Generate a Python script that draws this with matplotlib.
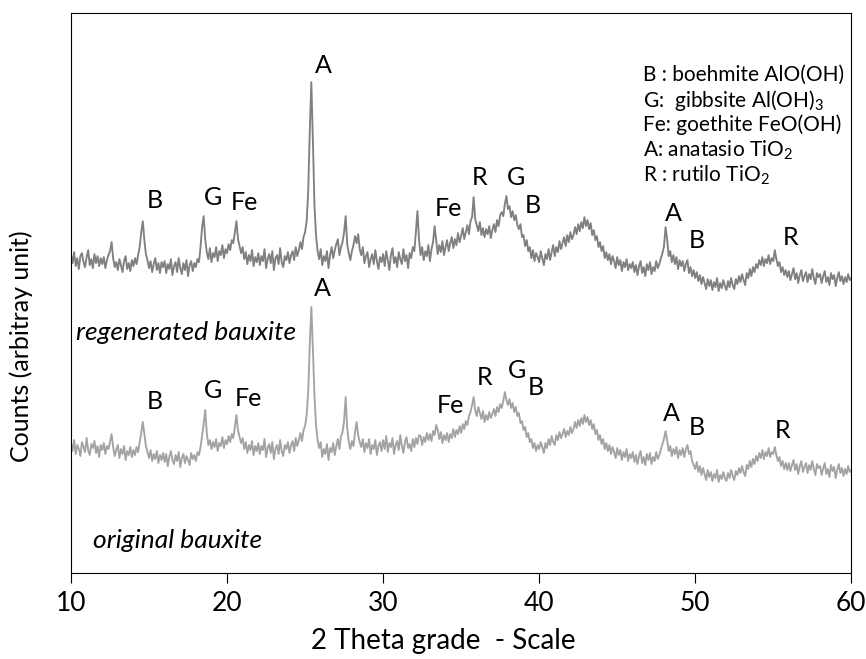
import numpy as np
import matplotlib.pyplot as plt

# scan grid (2 theta, step 0.1)
two_theta = np.linspace(10, 60, 501)

# counts (arbitrary unit, already offset per pattern)
# one row = 2 degrees
regenerated = [
    318, 310, 321, 307, 315, 304, 317, 320, 311, 306, 316, 323, 308, 314, 305, 319, 310, 317, 307, 315,   # 10
    309, 316, 305, 313, 318, 322, 331, 315, 306, 311, 303, 314, 308, 301, 312, 317, 304, 310, 302, 313,   # 12
    307, 315, 309, 318, 326, 341, 352, 333, 319, 313, 305, 312, 301, 309, 315, 303, 310, 300, 311, 306,   # 14
    312, 300, 309, 304, 314, 298, 307, 311, 301, 315, 305, 299, 310, 303, 313, 297, 308, 312, 302, 310,   # 16
    306, 314, 311, 326, 346, 357, 334, 321, 314, 325, 311, 320, 316, 326, 312, 322, 318, 328, 315, 324,   # 18
    320, 329, 323, 333, 330, 341, 352, 334, 327, 320, 326, 314, 321, 309, 318, 312, 323, 307, 316, 311,   # 20
    320, 308, 317, 312, 324, 305, 314, 319, 310, 322, 303, 315, 318, 309, 325, 311, 306, 317, 313, 321,   # 22
    310, 318, 322, 313, 326, 317, 323, 331, 324, 336, 341, 352, 382, 442, 491, 432, 368, 338, 322, 314,   # 24
    324, 308, 317, 312, 322, 305, 318, 326, 315, 323, 329, 334, 318, 326, 331, 341, 357, 329, 320, 313,   # 26
    322, 328, 337, 330, 339, 324, 318, 326, 310, 317, 321, 306, 314, 319, 309, 323, 312, 304, 316, 311,   # 28
    319, 307, 322, 313, 303, 318, 325, 310, 316, 306, 321, 314, 309, 324, 312, 318, 305, 320, 315, 326,   # 30
    322, 341, 362, 334, 318, 326, 313, 322, 317, 328, 312, 324, 331, 347, 333, 319, 328, 321, 332, 318,   # 32
    326, 333, 322, 330, 336, 325, 334, 328, 340, 331, 337, 345, 334, 341, 348, 339, 352, 356, 376, 354,   # 34
    348, 342, 351, 338, 345, 336, 344, 339, 347, 335, 343, 349, 341, 353, 347, 358, 361, 357, 369, 377,   # 36
    364, 367, 356, 362, 353, 358, 348, 344, 349, 336, 338, 327, 333, 322, 326, 315, 323, 312, 320, 316,   # 38
    311, 322, 315, 308, 319, 314, 324, 313, 321, 328, 317, 326, 321, 332, 324, 330, 336, 327, 338, 331,   # 40
    341, 334, 338, 346, 339, 349, 342, 351, 345, 356, 347, 353, 344, 350, 338, 343, 333, 337, 326, 331,   # 42
    322, 327, 315, 321, 313, 319, 309, 317, 312, 305, 316, 308, 313, 302, 311, 306, 314, 303, 309, 305,   # 44
    311, 301, 308, 298, 307, 312, 300, 306, 297, 309, 303, 311, 299, 306, 302, 312, 305, 309, 315, 320,   # 46
    327, 346, 334, 317, 322, 311, 318, 309, 316, 304, 313, 307, 312, 302, 309, 313, 300, 306, 297, 303,   # 48
    295, 301, 292, 298, 289, 296, 290, 284, 294, 287, 293, 283, 291, 286, 295, 282, 290, 285, 293, 287,   # 50
    283, 292, 286, 295, 288, 284, 294, 289, 297, 291, 299, 293, 288, 300, 295, 304, 297, 306, 301, 309,   # 52
    305, 313, 308, 316, 307, 314, 310, 318, 309, 315, 312, 323, 314, 307, 311, 301, 306, 298, 303, 296,   # 54
    302, 293, 299, 305, 294, 300, 290, 298, 303, 292, 297, 301, 291, 299, 294, 304, 295, 289, 300, 296,   # 56
    299, 290, 297, 302, 291, 296, 288, 300, 294, 298, 287, 295, 301, 292, 297, 289, 296, 291, 299, 293,   # 58
    295,
]

original = [
    130, 122, 133, 119, 128, 124, 117, 131, 126, 121, 135, 123, 118, 129, 125, 132, 120, 127, 116, 128,   # 10
    123, 130, 119, 127, 124, 131, 139, 126, 117, 123, 128, 115, 124, 119, 127, 113, 122, 118, 126, 116,   # 12
    123, 118, 126, 121, 131, 140, 151, 139, 127, 121, 115, 123, 112, 119, 114, 122, 110, 118, 113, 120,   # 14
    111, 119, 107, 116, 122, 113, 109, 118, 112, 121, 106, 115, 119, 110, 117, 113, 108, 120, 114, 118,   # 16
    112, 121, 118, 126, 137, 149, 163, 140, 128, 133, 124, 131, 126, 134, 122, 130, 127, 136, 125, 133,   # 18
    129, 137, 131, 139, 135, 146, 158, 143, 136, 130, 135, 124, 131, 120, 128, 123, 132, 118, 127, 122,   # 20
    130, 119, 127, 123, 134, 116, 125, 129, 120, 131, 114, 124, 128, 119, 133, 122, 117, 128, 124, 131,   # 22
    120, 128, 132, 122, 135, 127, 133, 140, 132, 143, 147, 158, 182, 228, 266, 224, 178, 148, 133, 125,   # 24
    131, 116, 124, 119, 129, 113, 125, 121, 130, 118, 127, 134, 124, 137, 141, 152, 176, 145, 131, 124,   # 26
    132, 127, 141, 151, 138, 131, 126, 134, 121, 130, 125, 134, 119, 128, 124, 133, 118, 127, 131, 122,   # 28
    133, 124, 137, 121, 130, 126, 135, 119, 128, 132, 123, 138, 127, 120, 131, 136, 125, 129, 122, 134,   # 30
    126, 135, 129, 138, 137, 128, 136, 131, 140, 133, 139, 132, 142, 138, 148, 143, 134, 141, 130, 138,   # 32
    133, 140, 131, 139, 135, 144, 136, 143, 139, 147, 140, 149, 144, 152, 148, 157, 161, 168, 176, 163,   # 34
    157, 166, 160, 154, 162, 151, 158, 153, 161, 155, 159, 164, 157, 166, 161, 169, 165, 172, 181, 173,   # 36
    168, 174, 165, 170, 161, 166, 157, 160, 150, 152, 143, 146, 136, 140, 131, 134, 125, 130, 122, 128,   # 38
    124, 131, 126, 120, 130, 125, 134, 128, 137, 131, 128, 138, 133, 141, 135, 139, 144, 136, 142, 138,   # 40
    146, 140, 144, 151, 145, 153, 147, 155, 149, 158, 151, 156, 148, 153, 144, 149, 139, 143, 133, 138,   # 42
    129, 134, 124, 130, 122, 128, 119, 126, 121, 115, 125, 118, 123, 113, 121, 116, 124, 112, 119, 115,   # 44
    121, 111, 118, 109, 117, 122, 110, 116, 108, 119, 113, 120, 109, 116, 112, 121, 114, 118, 124, 129,   # 46
    134, 142, 133, 122, 127, 117, 124, 119, 126, 115, 123, 118, 125, 116, 124, 128, 119, 122, 112, 108,   # 48
    104, 111, 101, 107, 98, 105, 99, 93, 103, 96, 101, 92, 99, 95, 103, 91, 98, 94, 101, 95,   # 50
    92, 100, 95, 103, 97, 93, 102, 98, 105, 100, 107, 101, 97, 108, 104, 112, 106, 114, 109, 117,   # 52
    112, 120, 115, 123, 114, 121, 117, 125, 116, 121, 119, 126, 118, 112, 116, 107, 112, 104, 110, 103,   # 54
    110, 102, 108, 113, 103, 109, 99, 107, 112, 101, 106, 110, 100, 108, 103, 112, 104, 98, 109, 105,   # 56
    107, 98, 105, 110, 99, 104, 96, 108, 102, 106, 95, 103, 109, 100, 105, 97, 104, 99, 107, 101,   # 58
    103,
]

# phase labels (text, 2theta, height)
labels_regen = [
    ("A", 26.15, 508), ("B", 15.4, 373), ("G", 19.1, 376), ("Fe", 21.1, 371),
    ("Fe", 34.2, 365), ("R", 36.15, 396), ("G", 38.5, 396), ("B", 39.6, 368),
    ("A", 48.6, 360), ("B", 50.1, 333), ("R", 56.1, 336),
]
labels_orig = [
    ("A", 26.1, 285), ("B", 15.4, 172), ("G", 19.1, 183), ("Fe", 21.4, 175),
    ("Fe", 34.3, 168), ("R", 36.5, 196), ("G", 38.6, 203), ("B", 39.8, 186),
    ("A", 48.5, 160), ("B", 50.1, 146), ("R", 55.6, 143),
]
legend_lines = [
    "B : boehmite AlO(OH)",
    r"G:  gibbsite Al(OH)$_\mathregular{3}$",
    "Fe: goethite FeO(OH)",
    r"A: anatasio TiO$_\mathregular{2}$",
    r"R : rutilo TiO$_\mathregular{2}$",
]

plt.rcParams['font.family'] = ['Lato', 'DejaVu Sans']

fig = plt.figure(figsize=(8.66, 6.59), dpi=100)
ax = fig.add_axes([0.082, 0.1305, 0.901, 0.8495])

ax.plot(two_theta, regenerated, color='#808080', lw=1.35)
ax.plot(two_theta, original, color='#a3a3a3', lw=1.35)

for txt, x, y in labels_regen + labels_orig:
    ax.text(x, y, txt, ha='center', va='center', fontsize=18)

for i, line in enumerate(legend_lines):
    ax.text(46.67, 498 - 25 * i, line, ha='left', va='center', fontsize=15)

ax.text(10.35, 241, "regenerated bauxite", style='italic', fontsize=19, va='center')
ax.text(11.4, 33, "original bauxite", style='italic', fontsize=19, va='center')

ax.set_xlim(10, 60)
ax.set_ylim(0, 560)
ax.set_xticks([10, 20, 30, 40, 50, 60])
ax.set_yticks([])
ax.tick_params(axis='x', direction='out', length=7, labelsize=19, pad=6)
ax.set_xlabel("2 Theta grade  - Scale", fontsize=20)
ax.set_ylabel("Counts (arbitray unit)", fontsize=18)
ax.xaxis.set_label_coords(0.477, -0.098)
ax.yaxis.set_label_coords(-0.049, 0.405)

fig.savefig("out.png", dpi=100)
